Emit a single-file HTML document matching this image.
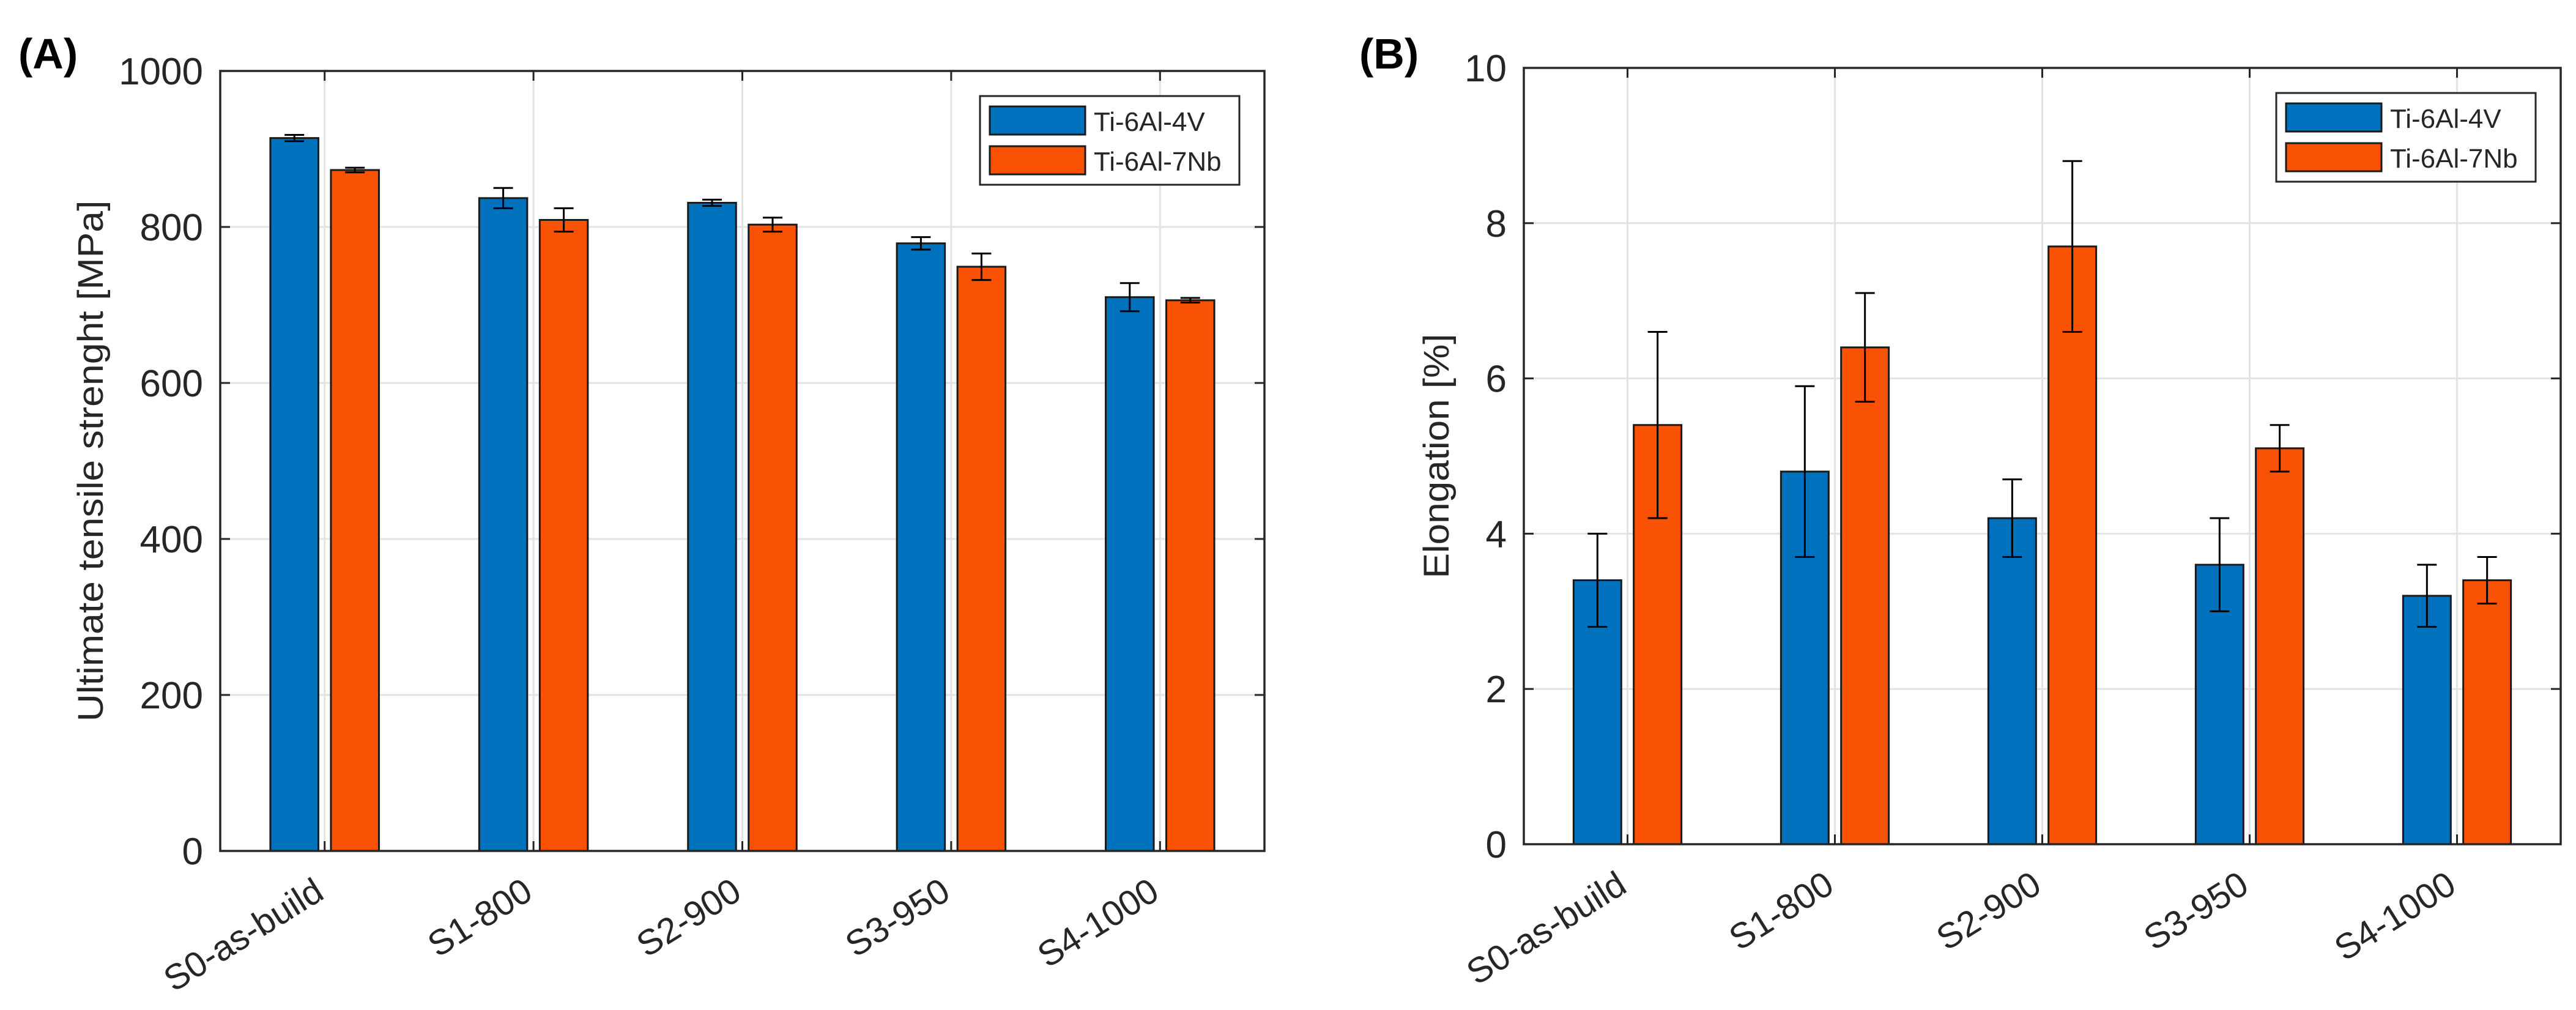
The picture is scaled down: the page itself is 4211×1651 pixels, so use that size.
<!DOCTYPE html>
<html><head><meta charset="utf-8"><style>
html,body{margin:0;padding:0;background:#fff;}
svg{display:block;font-family:"Liberation Sans",Arial,sans-serif;}
</style></head>
<body>
<svg id="fig" width="4211" height="1651" viewBox="0 0 4211 1651" xmlns="http://www.w3.org/2000/svg">
<rect x="0" y="0" width="4211" height="1651" fill="#fff"/>
<text x="30" y="112" font-size="70" font-weight="bold" fill="#000">(A)</text>
<text x="2222" y="112" font-size="70" font-weight="bold" fill="#000">(B)</text>
<g id="chartA"></g>
<g id="chartB"></g>
</svg>
<script>
const categories = ["S0-as-build","S1-800","S2-900","S3-950","S4-1000"];
const seriesNames = ["Ti-6Al-4V","Ti-6Al-7Nb"];
const utsTi64 = [914, 837, 831, 779, 710];
const utsTi64Err = [4, 13, 4, 8, 18];
const utsTi67 = [873, 809, 803, 749, 706];
const utsTi67Err = [3, 15, 9, 17, 3];
const utsTicks = [0, 200, 400, 600, 800, 1000];
const elTi64 = [3.4, 4.8, 4.2, 3.6, 3.2];
const elTi64Err = [0.6, 1.1, 0.5, 0.6, 0.4];
const elTi67 = [5.4, 6.4, 7.7, 5.1, 3.4];
const elTi67Err = [1.2, 0.7, 1.1, 0.3, 0.3];
const elTicks = [0, 2, 4, 6, 8, 10];

const NS = "http://www.w3.org/2000/svg";
function mk(parent, tag, attrs, text){
  const e = document.createElementNS(NS, tag);
  for (const k in attrs) e.setAttribute(k, attrs[k]);
  if (text !== undefined) e.textContent = text;
  parent.appendChild(e);
  return e;
}
const colors = ["#0072BD", "#FA5205"];

function drawChart(g, box, yMax, ticks, s1, e1, s2, e2, yLabel, yLabelLen){
  const L = box.l, R = box.r, T = box.t, B = box.b;
  const n = categories.length;
  const xs = i => L + (i + 0.5) * (R - L) / n;
  const ys = v => B - v / yMax * (B - T);
  const unit = (R - L) / n;
  ticks.forEach(t => {
    const y = ys(t);
    const gl = mk(g, "line", {x1:L, x2:R, y1:y, y2:y, stroke:"#e3e3e3", "stroke-width":3});
    
    
    const tk = mk(g, "line", {x1:L, x2:L+16, y1:y, y2:y, stroke:"#262626", "stroke-width":3});
    
    
    const tk2 = mk(g, "line", {x1:R-16, x2:R, y1:y, y2:y, stroke:"#262626", "stroke-width":3});
    
    
    const lb = mk(g, "text", {x:L-28, y:y+22, "font-size":62, "text-anchor":"end", fill:"#262626"}, String(t));
    
    
  });
  categories.forEach((c, i) => {
    const x = xs(i);
    const gl = mk(g, "line", {x1:x, x2:x, y1:T, y2:B, stroke:"#e3e3e3", "stroke-width":3});
    
    
    const tk = mk(g, "line", {x1:x, x2:x, y1:B-16, y2:B, stroke:"#262626", "stroke-width":3});
    
    
    const tk2 = mk(g, "line", {x1:x, x2:x, y1:T, y2:T+16, stroke:"#262626", "stroke-width":3});
    
    
    const ax0 = x + 2, ay0 = B + 76;
    const lb = mk(g, "text", {x:0, y:0, "font-size":58, "text-anchor":"end", fill:"#262626", transform:`translate(${ax0} ${ay0}) rotate(-32)`}, c);
    
    
  });
  const bw = 0.23 * unit;
  [[s1,e1],[s2,e2]].forEach((pair, si) => {
    const off = (si === 0 ? -0.145 : 0.145) * unit;
    pair[0].forEach((v, i) => {
      const cx = xs(i) + off;
      const r = mk(g, "rect", {x:cx-bw/2, y:ys(v), width:bw, height:B-ys(v), fill:colors[si], stroke:"#1a1a1a", "stroke-width":3});
      
      
      const err = pair[1][i];
      const yh = ys(v + err), yl = ys(v - err);
      const eb = mk(g, "path", {d:`M${cx},${yh}V${yl}M${cx-16},${yh}H${cx+16}M${cx-16},${yl}H${cx+16}`, stroke:"#000", "stroke-width":3, fill:"none"});
      
      
    });
  });
  const ax = mk(g, "rect", {x:L, y:T, width:R-L, height:B-T, fill:"none", stroke:"#262626", "stroke-width":3.5});
  
  
  const yl = mk(g, "text", {x:0, y:0, "font-size":58, "text-anchor":"middle", fill:"#262626", textLength:yLabelLen, lengthAdjust:"spacingAndGlyphs", transform:`translate(${box.ylx} ${(T+B)/2}) rotate(-90)`}, yLabel);
  
  
  const lx = R - 465, ly = T + 41;
  const lg = mk(g, "g", {});
  
  
  mk(lg, "rect", {x:lx, y:ly, width:424, height:145, fill:"#fff", stroke:"#262626", "stroke-width":3});
  seriesNames.forEach((s, si) => {
    const sw = mk(lg, "rect", {x:lx+16, y:ly+17+si*65, width:156, height:46, fill:colors[si], stroke:"#1a1a1a", "stroke-width":3});
    
    
    const t = mk(lg, "text", {x:lx+186, y:ly+57+si*65, "font-size":44, fill:"#262626"}, s);
    
    
  });
}
drawChart(document.getElementById("chartA"), {l:360, r:2067, t:116, b:1391, ylx:168}, 1000, utsTicks,
  utsTi64, utsTi64Err, utsTi67, utsTi67Err, "Ultimate tensile strenght [MPa]", 852);
drawChart(document.getElementById("chartB"), {l:2491, r:4186, t:111, b:1380, ylx:2368}, 10, elTicks,
  elTi64, elTi64Err, elTi67, elTi67Err, "Elongation [%]", 400);
</script>
</body></html>
